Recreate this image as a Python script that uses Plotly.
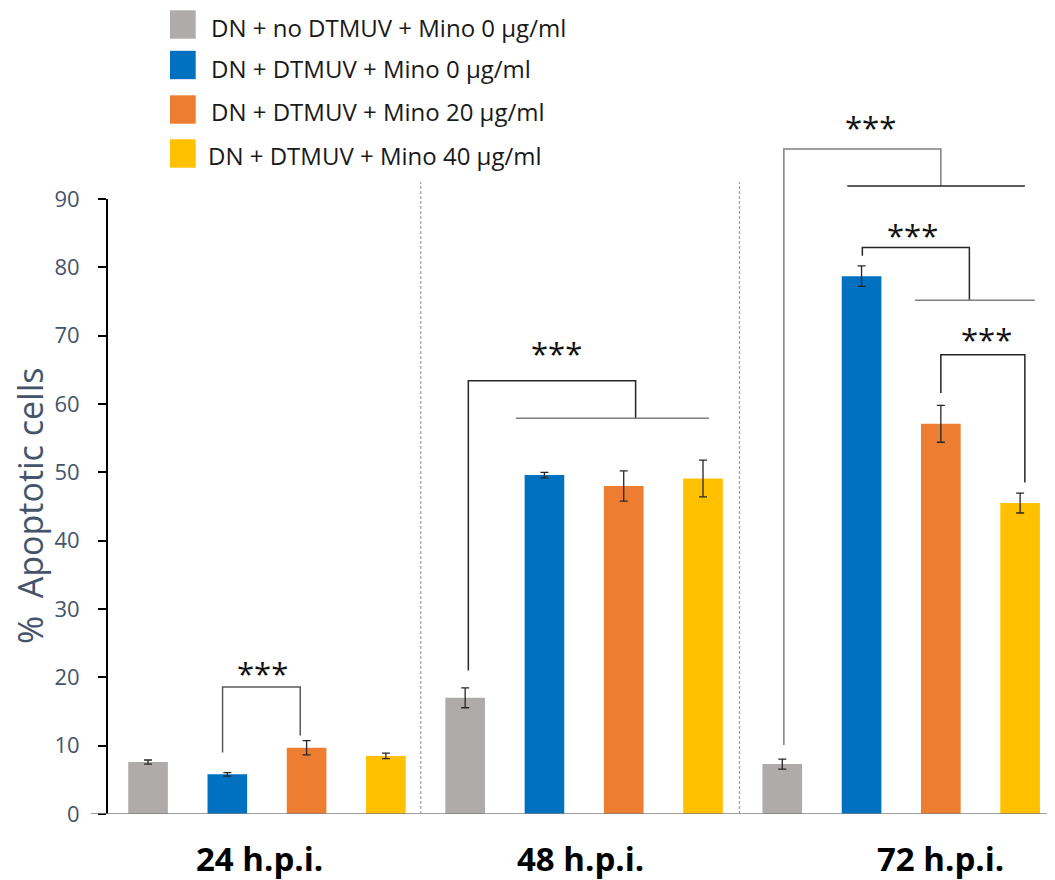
import plotly.graph_objects as go

# ---------------- data ----------------
groups = ["24 h.p.i.", "48 h.p.i.", "72 h.p.i."]
series_names = [
    "DN + no DTMUV + Mino 0 µg/ml",
    "DN + DTMUV + Mino 0 µg/ml",
    "DN + DTMUV + Mino 20 µg/ml",
    "DN + DTMUV + Mino 40 µg/ml",
]
# values per series, one per time point (24, 48, 72 h.p.i.)
no_virus_0 = [7.6, 17.0, 7.3]
virus_mino0 = [5.8, 49.6, 78.7]
virus_mino20 = [9.7, 48.0, 57.1]
virus_mino40 = [8.5, 49.1, 45.5]
err_no_virus_0 = [0.3, 1.45, 0.73]
err_virus_mino0 = [0.25, 0.4, 1.5]
err_virus_mino20 = [1.05, 2.2, 2.7]
err_virus_mino40 = [0.4, 2.7, 1.45]

y_ticks = [0, 10, 20, 30, 40, 50, 60, 70, 80, 90]
y_title = "%  Apoptotic cells"

# significance brackets (x in bar-slot units, y in % units)
br_left_x = [0.94, 4.04, 8.02, 9.01, 10.0]
br_left_y = [9.0, 21.0, 10.1, 81.7, 61.6]
br_top_y = [18.6, 63.4, 97.3, 82.9, 67.2]
br_right_x = [1.92, 6.15, 10.0, 10.36, 11.06]
br_right_y = [11.5, 57.9, 91.9, 75.2, 48.5]
br_bar_x0 = [None, 4.64, 8.82, 9.675, None]
br_bar_x1 = [None, 7.075, 11.06, 11.185, None]
star_x = [1.44, 5.15, 9.11, 9.64, 10.58]
star_y = [20.6, 67.4, 100.5, 84.7, 69.5]
star_text = ["***", "***", "***", "***", "***"]

separators_x = [3.44, 7.46]
separator_top = 92.5
group_label_x = [1.41, 5.46, 10.0]

# ---------------- styling ----------------
colors = ["#AFABAB", "#0070C0", "#ED7D31", "#FFC000"]
br_colors = ["#595959", "#262626", "#7F7F7F", "#262626", "#262626"]
bar_line_colors = [None, "#7F7F7F", "#262626", "#7F7F7F", None]
FONT = "Open Sans"
SLATE = "#44546A"

OFF = 8  # page body margin of the html page
W, H = 1055 - OFF, 880 - OFF
L, R, T, B = 100, 0, 191, 66
PW, PH = W - L - R, H - T - B
YMAX = 90


def px(x):
    """page pixel x -> paper x"""
    return (x - OFF - L) / PW


def py(y):
    """page pixel y -> paper y"""
    return (H - B - (y - OFF)) / PH


def yv(v):
    return v / YMAX


values = [no_virus_0, virus_mino0, virus_mino20, virus_mino40]
errors = [err_no_virus_0, err_virus_mino0, err_virus_mino20, err_virus_mino40]
n_series = len(series_names)

fig = go.Figure()
for i, (name, vals, errs) in enumerate(zip(series_names, values, errors)):
    xs = [g * n_series + i for g in range(len(groups))]
    fig.add_trace(go.Bar(
        x=xs, y=vals, name=name, width=0.5,
        marker=dict(color=colors[i], line=dict(width=0)),
        error_y=dict(type="data", array=errs, visible=True,
                     color="#262626", thickness=1.3, width=4),
        showlegend=False,
    ))

shapes = []
# baseline (x axis)
shapes.append(dict(type="line", xref="paper", yref="y", x0=px(91), x1=1,
                   y0=0, y1=0, line=dict(color="#7F7F7F", width=1.6), layer="above"))
# separators
for sx in separators_x:
    shapes.append(dict(type="line", xref="x", yref="paper", x0=sx, x1=sx,
                       y0=0, y1=yv(separator_top),
                       line=dict(color="#9AA3B0", width=1.2, dash="3px,2px")))
# brackets
for k in range(len(br_left_x)):
    c = br_colors[k]
    path = (f"M{br_left_x[k]},{yv(br_left_y[k])} L{br_left_x[k]},{yv(br_top_y[k])} "
            f"L{br_right_x[k]},{yv(br_top_y[k])} L{br_right_x[k]},{yv(br_right_y[k])}")
    shapes.append(dict(type="path", xref="x", yref="paper", path=path,
                       line=dict(color=c, width=1.5)))
    if br_bar_x0[k] is not None:
        shapes.append(dict(type="line", xref="x", yref="paper",
                           x0=br_bar_x0[k], x1=br_bar_x1[k],
                           y0=yv(br_right_y[k]), y1=yv(br_right_y[k]),
                           line=dict(color=bar_line_colors[k], width=1.5)))

# custom legend swatches
leg_y_centers = [24.5, 65, 109.5, 153.5]
leg_text_y = [27.5, 68, 111.5, 155]
leg_text_x = [209, 209, 209, 206]
for i in range(n_series):
    shapes.append(dict(type="rect", xref="paper", yref="paper",
                       x0=px(170), x1=px(195.7),
                       y0=py(leg_y_centers[i] + 14.2), y1=py(leg_y_centers[i] - 14.2),
                       fillcolor=colors[i], line=dict(width=0)))

annotations = []
for i in range(n_series):
    annotations.append(dict(xref="paper", yref="paper", x=px(leg_text_x[i]),
                            y=py(leg_text_y[i]), xanchor="left", yanchor="middle",
                            text=series_names[i], showarrow=False,
                            font=dict(family=FONT, size=24, color="#1A1A1A")))
for k in range(len(star_x)):
    annotations.append(dict(xref="x", yref="paper", x=star_x[k], y=yv(star_y[k]),
                            xanchor="center", yanchor="middle",
                            text=star_text[k],
                            showarrow=False,
                            font=dict(family=FONT, size=31, color="#111111")))
for g, gx in zip(groups, group_label_x):
    annotations.append(dict(xref="x", yref="paper", x=gx, y=py(858),
                            xanchor="center", yanchor="middle", text=f"<b>{g}</b>",
                            showarrow=False,
                            font=dict(family=FONT, size=33, color="#000000")))
annotations.append(dict(xref="paper", yref="paper", x=px(30), y=py(506),
                        xanchor="center", yanchor="middle", text=y_title,
                        textangle=-90, showarrow=False,
                        font=dict(family=FONT, size=34, color=SLATE)))

fig.update_layout(
    width=W, height=H,
    margin=dict(l=L, r=R, t=T, b=B, pad=0),
    paper_bgcolor="white", plot_bgcolor="white",
    barmode="overlay",
    showlegend=False,
    font=dict(family=FONT),
    xaxis=dict(range=[-0.505, 11.44], showticklabels=False, ticks="",
               showgrid=False, zeroline=False, showline=False, fixedrange=True),
    yaxis=dict(range=[0, YMAX], tickvals=y_ticks, ticks="outside", ticklen=8,
               tickwidth=2, tickcolor="#000000", showline=True, linecolor="#000000",
               linewidth=2, showgrid=False, zeroline=False,
               tickfont=dict(family=FONT, size=22, color=SLATE),
               ticklabelstandoff=14),
    shapes=shapes,
    annotations=annotations,
)

fig.write_html("out.html")
